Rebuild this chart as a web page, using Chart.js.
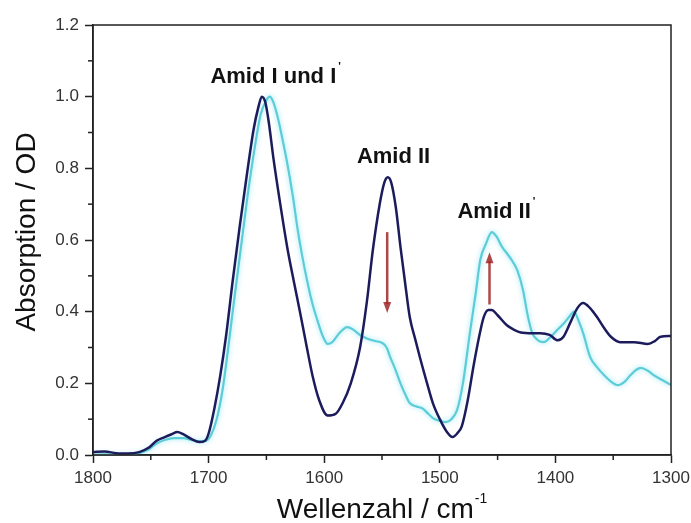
<!DOCTYPE html>
<html><head><meta charset="utf-8">
<script src="https://cdn.jsdelivr.net/npm/chart.js@4"></script>
<style>html,body{margin:0;padding:0;background:#fff;}#wrap{width:691px;height:523px;position:relative;}</style>
</head><body><div id="wrap"><canvas id="c"></canvas></div>
<script>
// Series 1 (dark navy)
const waveDark = [1800,1790,1780,1770,1760,1752,1745,1738,1732,1727,1722,1715,1708,1703,1700,1695,1690,1685,1679,1673,1667,1661,1657,1654,1651,1648,1644,1638,1632,1626,1621,1615,1610,1604,1597,1590,1584,1577,1569,1563,1558,1552,1548,1545,1542,1538,1534,1530,1526,1521,1517,1511,1506,1500,1494,1489,1485,1481,1476,1471,1466,1462,1458,1455,1450,1442,1436,1430,1420,1413,1405,1398,1393,1387,1381,1376,1370,1364,1358,1352,1344,1332,1320,1314,1309,1300];
const absDark  = [0.008,0.010,0.005,0.004,0.008,0.020,0.040,0.050,0.058,0.064,0.058,0.045,0.036,0.040,0.060,0.130,0.220,0.330,0.490,0.640,0.780,0.910,0.970,1.000,0.985,0.930,0.830,0.700,0.580,0.480,0.400,0.300,0.220,0.150,0.110,0.115,0.145,0.200,0.300,0.430,0.570,0.700,0.760,0.775,0.760,0.690,0.580,0.480,0.385,0.320,0.270,0.200,0.145,0.100,0.065,0.050,0.060,0.080,0.150,0.245,0.330,0.385,0.405,0.405,0.390,0.362,0.350,0.342,0.340,0.340,0.335,0.320,0.330,0.370,0.410,0.424,0.410,0.385,0.355,0.330,0.315,0.315,0.310,0.318,0.330,0.332];
// Series 2 (cyan)
const waveCyan = [1800,1790,1780,1770,1760,1752,1745,1738,1730,1722,1715,1708,1702,1698,1693,1688,1683,1678,1672,1666,1660,1655,1650,1647,1644,1640,1636,1632,1627,1623,1619,1615,1610,1606,1601,1597,1593,1587,1580,1575,1569,1563,1556,1550,1546,1543,1538,1534,1530,1526,1520,1515,1510,1506,1500,1495,1490,1485,1480,1474,1469,1465,1460,1455,1451,1446,1442,1437,1433,1428,1424,1420,1415,1410,1404,1398,1392,1387,1384,1380,1376,1370,1364,1358,1352,1346,1340,1335,1330,1326,1320,1315,1308,1300];
const absCyan  = [0.000,0.002,0.000,0.000,0.005,0.015,0.032,0.042,0.047,0.047,0.042,0.038,0.040,0.055,0.100,0.180,0.300,0.430,0.580,0.730,0.860,0.950,0.990,1.000,0.985,0.940,0.880,0.815,0.720,0.630,0.555,0.490,0.420,0.377,0.330,0.310,0.315,0.340,0.357,0.350,0.335,0.325,0.318,0.313,0.300,0.274,0.235,0.200,0.170,0.145,0.135,0.130,0.115,0.103,0.095,0.092,0.100,0.126,0.200,0.340,0.450,0.544,0.590,0.622,0.610,0.580,0.563,0.540,0.516,0.460,0.390,0.340,0.320,0.315,0.330,0.350,0.370,0.390,0.400,0.375,0.340,0.274,0.245,0.223,0.205,0.195,0.205,0.223,0.238,0.243,0.235,0.223,0.210,0.195];
// Axis ticks
const xTicks = [1800,1700,1600,1500,1400,1300];
const yTicks = [0.0,0.2,0.4,0.6,0.8,1.0,1.2];
// Annotations (data coordinates)
const labelTexts = ["Amid I und I", "Amid II", "Amid II"];
const labelPrime = [true, false, true];
const labelWave  = [1644, 1540, 1453];
const labelAbs   = [1.038, 0.815, 0.661];
const arrowWave  = [1545.5, 1457];
const arrowFrom  = [0.622, 0.420];
const arrowTo    = [0.396, 0.566];

const FONT = '"Liberation Sans", Arial, sans-serif';
const decor = {
  id: 'decor',
  beforeDatasetDraw(chart, args) {
    const ctx = chart.ctx;
    ctx.save();
    if (args.index === 1) { ctx.shadowColor = 'rgba(130,225,245,0.9)'; ctx.shadowBlur = 5; }
  },
  afterDatasetDraw(chart) { chart.ctx.restore(); },
  afterDraw(chart) {
    const ctx = chart.ctx, a = chart.chartArea, xs = chart.scales.x, ys = chart.scales.y;
    ctx.save();
    // box
    ctx.strokeStyle = '#222'; ctx.lineWidth = 1.5;
    ctx.strokeRect(a.left, a.top, a.right - a.left, a.bottom - a.top);
    // minor ticks
    ctx.lineWidth = 1.5;
    xs.ticks.forEach(t => { if (!xTicks.includes(t.value)) { const p = xs.getPixelForValue(t.value); ctx.beginPath(); ctx.moveTo(p, a.bottom); ctx.lineTo(p, a.bottom + 5); ctx.stroke(); } });
    ys.ticks.forEach(t => { if (Math.round(t.value * 10) % 2 !== 0) { const p = ys.getPixelForValue(t.value); ctx.beginPath(); ctx.moveTo(a.left - 5, p); ctx.lineTo(a.left, p); ctx.stroke(); } });
    // arrows
    ctx.strokeStyle = 'rgba(160,40,40,0.85)'; ctx.fillStyle = 'rgba(160,40,40,0.85)'; ctx.lineWidth = 2.5;
    arrowWave.forEach((w, i) => {
      const x = xs.getPixelForValue(w), y0 = ys.getPixelForValue(arrowFrom[i]), y1 = ys.getPixelForValue(arrowTo[i]);
      const dir = y1 > y0 ? 1 : -1;
      ctx.beginPath(); ctx.moveTo(x, y0); ctx.lineTo(x, y1 - dir * 9); ctx.stroke();
      ctx.beginPath(); ctx.moveTo(x, y1); ctx.lineTo(x - 4, y1 - dir * 11); ctx.lineTo(x + 4, y1 - dir * 11); ctx.closePath(); ctx.fill();
    });
    // labels
    ctx.fillStyle = '#111'; ctx.textBaseline = 'alphabetic';
    labelTexts.forEach((s, i) => {
      ctx.font = 'bold 22px ' + FONT;
      const w = ctx.measureText(s).width;
      const cx = xs.getPixelForValue(labelWave[i]), by = ys.getPixelForValue(labelAbs[i]);
      ctx.textAlign = 'left';
      ctx.fillText(s, cx - w / 2, by);
      if (labelPrime[i]) { ctx.font = 'bold 11px ' + FONT; ctx.fillText("'", cx + w / 2 + 2, by - 13); }
    });
    // y title
    ctx.fillStyle = '#111';
    ctx.save();
    ctx.translate(a.left - 58, (a.top + a.bottom) / 2 - 8);
    ctx.rotate(-Math.PI / 2);
    ctx.font = '28px ' + FONT; ctx.textAlign = 'center'; ctx.textBaseline = 'alphabetic';
    ctx.fillText('Absorption / OD', 0, 0);
    ctx.restore();
    // x title with superscript
    ctx.font = '28px ' + FONT; ctx.textAlign = 'left';
    const main = 'Wellenzahl / cm', sup = '-1';
    const mw = ctx.measureText(main).width;
    ctx.font = '14px ' + FONT;
    const sw = ctx.measureText(sup).width;
    const cx = (a.left + a.right) / 2, sx = cx - (mw + sw + 1) / 2, by = a.bottom + 63;
    ctx.font = '28px ' + FONT; ctx.fillText(main, sx, by);
    ctx.font = '14px ' + FONT; ctx.fillText(sup, sx + mw + 1, by - 15);
    ctx.restore();
  }
};

new Chart(document.getElementById('c'), {
  type: 'line',
  data: {
    datasets: [
      { data: waveDark.map((w, i) => ({x: w, y: absDark[i]})), borderColor: '#1c1c5c', borderWidth: 2.5, pointRadius: 0, cubicInterpolationMode: 'monotone', fill: false },
      { data: waveCyan.map((w, i) => ({x: w, y: absCyan[i]})), borderColor: '#5ccdd6', borderWidth: 2.2, pointRadius: 0, cubicInterpolationMode: 'monotone', fill: false }
    ]
  },
  options: {
    responsive: true, maintainAspectRatio: false, animation: false, devicePixelRatio: 1,
    layout: { padding: { top: 25, right: 20, left: 0, bottom: 0 } },
    plugins: { legend: { display: false }, tooltip: { enabled: false } },
    scales: {
      x: {
        type: 'linear', reverse: true, min: 1300, max: 1800,
        afterFit(s) { s.height = 68; s.paddingLeft = 0; s.paddingRight = 0; },
        ticks: { stepSize: 50, autoSkip: false, maxRotation: 0, color: '#333', padding: 5, font: { size: 17, family: FONT },
          callback: v => xTicks.includes(v) ? String(v) : '' },
        grid: { drawOnChartArea: false, drawTicks: true, tickLength: 8, tickWidth: 1.5,
          tickColor: c => (c.tick && xTicks.includes(c.tick.value)) ? '#222' : 'rgba(0,0,0,0)' },
        border: { display: true, color: '#222', width: 1.5 }
      },
      y: {
        min: 0, max: 1.2,
        afterFit(s) { s.width = 93; s.paddingTop = 0; s.paddingBottom = 0; },
        ticks: { stepSize: 0.1, autoSkip: false, color: '#333', padding: 6, font: { size: 17, family: FONT },
          callback: v => (Math.round(v * 10) % 2 === 0) ? v.toFixed(1) : '' },
        grid: { drawOnChartArea: false, drawTicks: true, tickLength: 8, tickWidth: 1.5,
          tickColor: c => (c.tick && Math.round(c.tick.value * 10) % 2 === 0) ? '#222' : 'rgba(0,0,0,0)' },
        border: { display: true, color: '#222', width: 1.5 }
      }
    }
  },
  plugins: [decor]
});
</script></body></html>
